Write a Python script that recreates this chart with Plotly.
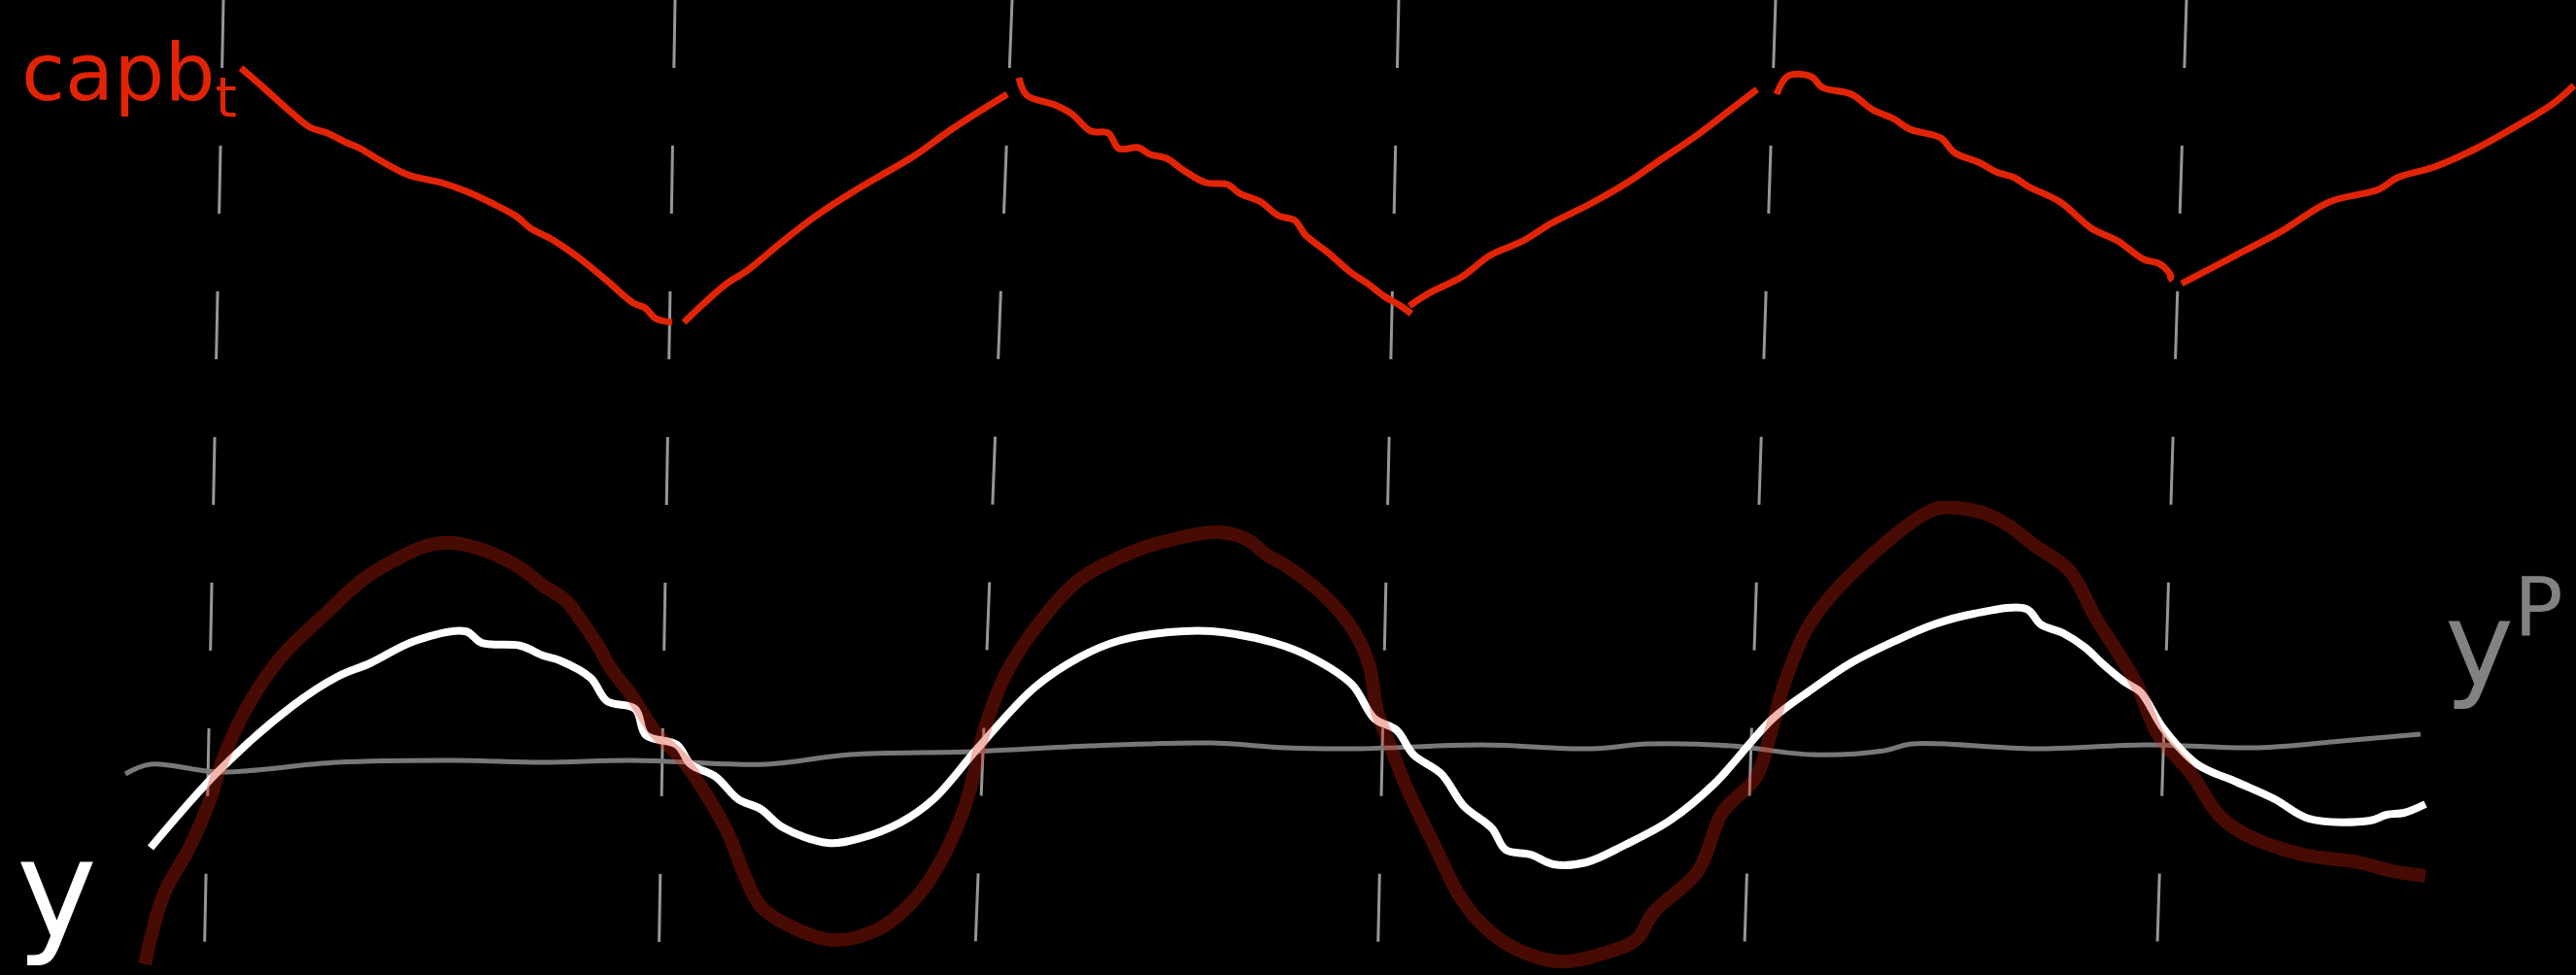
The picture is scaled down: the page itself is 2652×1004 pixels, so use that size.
import plotly.graph_objects as go

# ---- data (time axis 0..2652, level axis 0..1004, larger = lower) ----
capb_t = [248, 271, 299, 319, 337, 357, 371, 391, 420, 454, 480, 512, 532, 546, 569, 598, 626, 652, 664, 675, 692,
          None,
          704, 724, 747, 770, 804, 839, 879, 908, 942, 977, 1011, 1037,
          None,
          1049, 1057, 1086, 1103, 1123, 1141, 1152, 1172, 1184, 1201, 1218, 1241, 1264, 1276, 1298, 1316, 1333, 1344,
          1367, 1390, 1408, 1425, 1442, 1453,
          None,
          1451, 1471, 1505, 1534, 1568, 1597, 1637, 1677, 1706, 1746, 1775, 1809,
          None,
          1829, 1841, 1865, 1876, 1906, 1928, 1949, 1966, 1998, 2012, 2039, 2055, 2074, 2088, 2121, 2153, 2180, 2207,
          2224, 2235, 2232,
          None,
          2246, 2273, 2311, 2349, 2398, 2449, 2468, 2506, 2549, 2604, 2628, 2650]
capb_v = [70, 90, 115, 131, 137, 147, 153, 165, 180, 188, 197, 212, 223, 235, 247, 267, 290, 312, 317, 328, 332,
          None,
          332, 313, 293, 278, 250, 223, 197, 180, 160, 135, 113, 97,
          None,
          80, 98, 108, 117, 135, 137, 153, 152, 159, 163, 175, 188, 190, 199, 208, 222, 227, 242,
          260, 280, 292, 305, 315, 323,
          None,
          315, 302, 285, 263, 248, 230, 210, 187, 167, 140, 118, 92,
          None,
          97, 78, 79, 90, 97, 113, 122, 133, 142, 157, 168, 177, 183, 192, 208, 235, 248, 267,
          272, 285, 288,
          None,
          292, 278, 258, 238, 208, 195, 183, 172, 153, 122, 107, 88]

y_t = [155, 226, 301, 347, 381, 427, 479, 496, 536, 559, 576, 608, 625, 654, 665, 697, 711, 737, 760, 783, 806,
       852, 886, 927, 961, 1007, 1065, 1111, 1151, 1203, 1248, 1312, 1352, 1392, 1415, 1438, 1455, 1484, 1507,
       1536, 1550, 1576, 1599, 1633, 1673, 1719, 1765, 1825, 1865, 1905, 1951, 1991, 2032, 2086, 2101, 2124,
       2147, 2164, 2187, 2204, 2227, 2262, 2302, 2342, 2377, 2440, 2457, 2475, 2497]
y_v = [873, 793, 727, 697, 683, 660, 650, 662, 665, 675, 680, 698, 722, 730, 757, 767, 787, 800, 823, 833, 852,
       868, 863, 847, 823, 770, 708, 677, 660, 651, 650, 662, 678, 705, 740, 752, 777, 797, 830,
       853, 875, 880, 890, 888, 870, 845, 807, 740, 710, 683, 660, 643, 632, 627, 643, 652,
       667, 683, 702, 713, 750, 787, 805, 823, 843, 845, 839, 837, 828]

ydark_t = [149, 169, 195, 215, 229, 255, 289, 335, 376, 410, 439, 467, 502, 536, 559, 582, 599, 617, 628, 651,
           674, 703, 720, 749, 766, 783, 812, 858, 904, 938, 961, 990, 1002, 1013, 1036, 1071, 1111, 1157,
           1197, 1254, 1283, 1305, 1323, 1363, 1392, 1409, 1418, 1432, 1449, 1478, 1501, 1524, 1553, 1604,
           1650, 1685, 1702, 1748, 1773, 1808, 1825, 1836, 1859, 1882, 1940, 1980, 1997, 2038, 2066, 2095,
           2130, 2158, 2181, 2199, 2222, 2256, 2285, 2313, 2371, 2428, 2463, 2497]
ydark_v = [993, 920, 873, 827, 783, 727, 677, 632, 595, 575, 562, 559, 568, 585, 603, 618, 640, 667, 687, 717,
           753, 783, 807, 857, 900, 933, 953, 968, 957, 930, 900, 840, 800, 753, 693, 640, 597, 572,
           558, 548, 555, 572, 582, 613, 647, 683, 733, 770, 813, 873, 920, 950, 973, 990,
           982, 967, 940, 897, 837, 800, 747, 707, 650, 617, 560, 530, 523, 527, 540, 562,
           587, 637, 673, 703, 757, 797, 840, 860, 880, 888, 897, 902]

yP_t = [129, 155, 226, 347, 467, 559, 651, 789, 875, 1000, 1122, 1248, 1323, 1398, 1524, 1639, 1696, 1782, 1865,
        1940, 1968, 2095, 2210, 2325, 2411, 2492]
yP_v = [797, 787, 795, 785, 783, 785, 783, 787, 777, 774, 768, 765, 770, 771, 767, 771, 766, 768, 777,
        773, 766, 771, 767, 770, 763, 756]

guide_top = [230, 695, 1042, 1440, 1828, 2251]
guide_bottom = [210, 678, 1003, 1418, 1795, 2220]

labels = ["capb<sub>t</sub>", "y", "y<sup>P</sup>"]

W, H = 2652, 1004
fig = go.Figure()

# dashed vertical guides
for gt, gb in zip(guide_top, guide_bottom):
    fig.add_trace(go.Scatter(x=[gt, gb], y=[0, H], mode="lines",
                             line=dict(color="rgb(150,150,150)", width=3, dash="70px,80px"),
                             hoverinfo="skip", showlegend=False))

# y^P baseline
fig.add_trace(go.Scatter(x=yP_t, y=yP_v, mode="lines", line=dict(color="rgb(120,120,120)", width=5, shape="spline"),
                         hoverinfo="skip", showlegend=False))
# white y
fig.add_trace(go.Scatter(x=y_t, y=y_v, mode="lines", line=dict(color="white", width=8, shape="spline"),
                         hoverinfo="skip", showlegend=False))
# dark red wave
fig.add_trace(go.Scatter(x=ydark_t, y=ydark_v, mode="lines", opacity=0.33,
                         line=dict(color="rgb(215,35,10)", width=14, shape="spline"),
                         hoverinfo="skip", showlegend=False))
# capb_t red
fig.add_trace(go.Scatter(x=capb_t, y=capb_v, mode="lines", connectgaps=False,
                         line=dict(color="rgb(226,36,6)", width=7, shape="spline"),
                         hoverinfo="skip", showlegend=False))

fig.add_annotation(x=20, y=25, xanchor="left", yanchor="top", text=labels[0], showarrow=False,
                   font=dict(family="DejaVu Sans", size=82, color="rgb(226,36,6)"))
fig.add_annotation(x=15, y=1000, xanchor="left", yanchor="bottom", text=labels[1], showarrow=False,
                   font=dict(family="DejaVu Sans", size=140, color="white"))
fig.add_annotation(x=2515, y=575, xanchor="left", yanchor="top", text=labels[2], showarrow=False,
                   font=dict(family="DejaVu Sans", size=120, color="rgb(130,130,130)"))

fig.update_layout(width=W, height=H, margin=dict(l=0, r=0, t=0, b=0),
                  paper_bgcolor="black", plot_bgcolor="black",
                  xaxis=dict(range=[0, W], visible=False, fixedrange=True),
                  yaxis=dict(range=[H, 0], visible=False, fixedrange=True))
fig.write_html("out.html", config={"displayModeBar": False},
               post_script="document.body.style.margin='0';document.body.style.background='black';"
                           "document.body.style.overflow='hidden';")
